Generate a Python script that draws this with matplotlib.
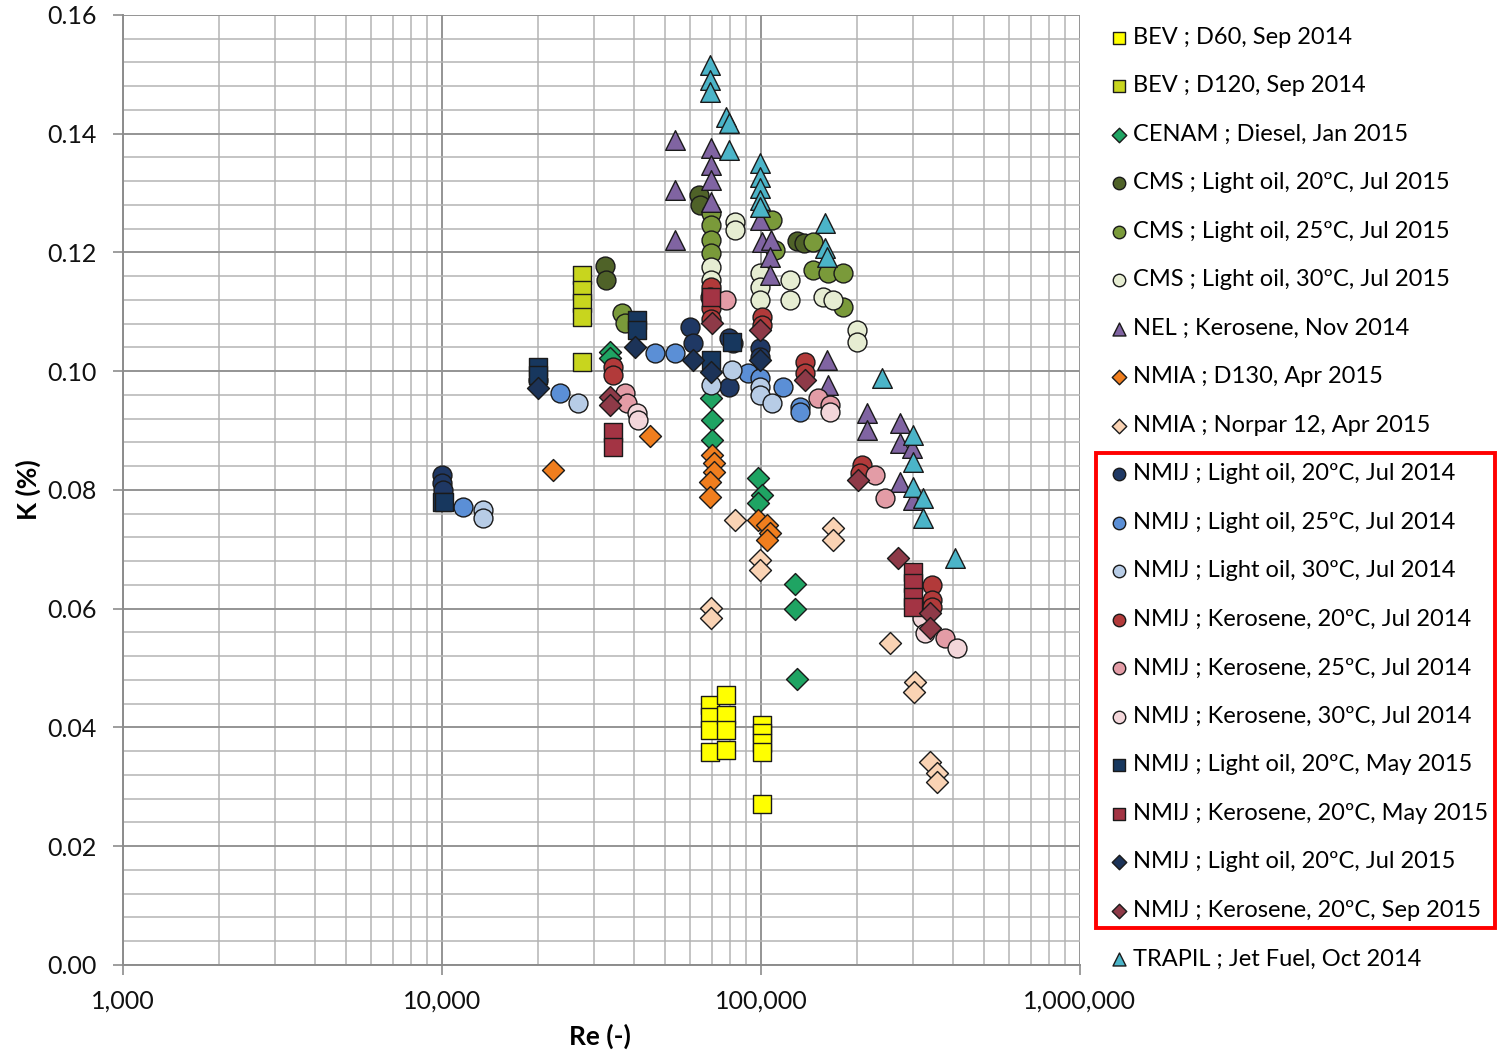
import numpy as np
import matplotlib.pyplot as plt
from matplotlib.ticker import FixedLocator, MultipleLocator, FuncFormatter
from matplotlib.patches import Rectangle

plt.rcParams['font.family'] = ['Lato', 'DejaVu Sans']

# ---- data: Reynolds number and K (%) per laboratory / fluid ----
bev_d60_re = [69200, 69200, 69200, 69200, 77700, 77700, 77700, 77700,
              100700, 100700, 100700, 100700, 100700]
bev_d60_k = [0.0438, 0.0418, 0.0396, 0.0359, 0.0455, 0.0421, 0.0396, 0.0362,
             0.0404, 0.0391, 0.0374, 0.0359, 0.0271]

bev_d120_re = [27470, 27470, 27470, 27470, 27470]
bev_d120_k = [0.1162, 0.1137, 0.1115, 0.1091, 0.1016]

cenam_re = [33600, 33600, 69900, 70400, 70400, 97900, 100700, 97900, 127800, 127800, 129700]
cenam_k = [0.1032, 0.1022, 0.0955, 0.0918, 0.0884, 0.0820, 0.0792, 0.0778, 0.0642, 0.0600, 0.0482]

cms20_re = [32400, 32700, 63700, 64400, 129700, 136000]
cms20_k = [0.1177, 0.1154, 0.1297, 0.1280, 0.1219, 0.1216]

cms25_re = [36670, 37500, 69900, 69900, 69900, 69900, 108400, 111000, 145600, 145600, 162200, 180700, 180700]
cms25_k = [0.1098, 0.1081, 0.1267, 0.1246, 0.1221, 0.1199, 0.1255, 0.1204, 0.1218, 0.1171, 0.1165, 0.1165, 0.1108]

cms30_re = [82900, 82900, 69900, 69900, 69900, 99300, 99300, 99300, 123300, 123300, 156400, 168200, 200000, 200000]
cms30_k = [0.1251, 0.1238, 0.1176, 0.1154, 0.1133, 0.1165, 0.1142, 0.1120, 0.1154, 0.1120, 0.1125, 0.1120, 0.1069, 0.1049]

nel_re = [53700, 53700, 53700, 69900, 69900, 69900, 69900, 99300, 100700, 107700, 106400, 106400,
          161000, 162200, 214900, 214900, 273000, 273000, 273000, 297500, 299700]
nel_k = [0.1389, 0.1305, 0.1221, 0.1376, 0.1347, 0.1322, 0.1285, 0.1255, 0.1218, 0.1221, 0.1192, 0.1162,
         0.1019, 0.0977, 0.0930, 0.0901, 0.0913, 0.0879, 0.0813, 0.0871, 0.0783]

nmia_d130_re = [22280, 44870, 70400, 71400, 71400, 69200, 69200, 97900, 104400, 106400, 104400]
nmia_d130_k = [0.0834, 0.0891, 0.0859, 0.0845, 0.0830, 0.0813, 0.0788, 0.0749, 0.0741, 0.0728, 0.0716]

nmia_norpar_re = [82900, 168200, 168200, 99300, 99300, 69900, 69900, 253800, 304000, 302000,
                  338700, 356200, 356200]
nmia_norpar_k = [0.0749, 0.0736, 0.0716, 0.0682, 0.0665, 0.0601, 0.0584, 0.0542, 0.0477, 0.0460,
                 0.0342, 0.0323, 0.0308]

nmij_lo20_jul14_re = [10000, 10000, 10070, 20000, 59900, 61200, 79400, 81700, 99300, 99300, 79400]
nmij_lo20_jul14_k = [0.0825, 0.0812, 0.0800, 0.0985, 0.1075, 0.1048, 0.1056, 0.1048, 0.1039, 0.1024, 0.0973]

nmij_lo25_re = [11640, 23440, 46530, 53700, 91000, 99300, 117200, 132500, 132500]
nmij_lo25_k = [0.0771, 0.0963, 0.1031, 0.1031, 0.0997, 0.0989, 0.0973, 0.0940, 0.0931]

nmij_lo30_re = [13440, 13440, 26690, 69900, 81100, 99300, 99300, 108400]
nmij_lo30_k = [0.0766, 0.0753, 0.0947, 0.0977, 0.1002, 0.0973, 0.0960, 0.0947]

nmij_ke20_jul14_re = [34370, 34370, 69900, 69200, 69900, 69900, 100700, 100700, 137400, 137400,
                      207300, 204000, 343700, 343700, 343700]
nmij_ke20_jul14_k = [0.1007, 0.0994, 0.1142, 0.1125, 0.1107, 0.1088, 0.1091, 0.1078, 0.1016, 0.0997,
                     0.0842, 0.0829, 0.0640, 0.0615, 0.0603]

nmij_ke25_re = [37470, 38030, 77700, 150900, 164600, 227800, 244800, 377400]
nmij_ke25_k = [0.0963, 0.0947, 0.1120, 0.0955, 0.0943, 0.0825, 0.0787, 0.0551]

nmij_ke30_re = [40870, 41200, 164600, 319000, 326700, 411600]
nmij_ke30_k = [0.0930, 0.0918, 0.0931, 0.0584, 0.0559, 0.0534]

nmij_lo20_may15_re = [10000, 10150, 20000, 20000, 40870, 40870, 81100, 69900]
nmij_lo20_may15_k = [0.0780, 0.0780, 0.1007, 0.0994, 0.1086, 0.1069, 0.1049, 0.1019]

nmij_ke20_may15_re = [34240, 34240, 69900, 299700, 299700, 299700, 299700]
nmij_ke20_may15_k = [0.0898, 0.0872, 0.1125, 0.0662, 0.0643, 0.0620, 0.0603]

nmij_lo20_jul15_re = [20000, 40300, 99300, 61200, 69900]
nmij_lo20_jul15_k = [0.0972, 0.1041, 0.1019, 0.1019, 0.0999]

nmij_ke20_sep15_re = [33630, 33630, 70400, 99300, 137400, 201500, 268900, 338700, 338700]
nmij_ke20_sep15_k = [0.0957, 0.0943, 0.1081, 0.1069, 0.0985, 0.0817, 0.0685, 0.0593, 0.0568]

trapil_re = [69200, 69200, 69200, 77700, 79400, 79400, 99300, 99300, 99300, 99300, 99300,
             158700, 158700, 161000, 239500, 299700, 299700, 299700, 322000, 322000, 405700]
trapil_k = [0.1516, 0.1491, 0.1470, 0.1428, 0.1418, 0.1373, 0.1351, 0.1327, 0.1309, 0.1288, 0.1277,
            0.1250, 0.1208, 0.1192, 0.0989, 0.0893, 0.0847, 0.0805, 0.0787, 0.0753, 0.0685]

series = [
    ("BEV ; D60, Sep 2014", bev_d60_re, bev_d60_k, "s", "#FFFF00"),
    ("BEV ; D120, Sep 2014", bev_d120_re, bev_d120_k, "s", "#C8D51E"),
    ("CENAM ; Diesel, Jan 2015", cenam_re, cenam_k, "D", "#1FA463"),
    ("CMS ; Light oil, 20ºC, Jul 2015", cms20_re, cms20_k, "o", "#4F6228"),
    ("CMS ; Light oil, 25ºC, Jul 2015", cms25_re, cms25_k, "o", "#7A9A3A"),
    ("CMS ; Light oil, 30ºC, Jul 2015", cms30_re, cms30_k, "o", "#E6EDD2"),
    ("NEL ; Kerosene, Nov 2014", nel_re, nel_k, "^", "#8064A2"),
    ("NMIA ; D130, Apr 2015", nmia_d130_re, nmia_d130_k, "D", "#F07E1E"),
    ("NMIA ; Norpar 12, Apr 2015", nmia_norpar_re, nmia_norpar_k, "D", "#FAD3B4"),
    ("NMIJ ; Light oil, 20ºC, Jul 2014", nmij_lo20_jul14_re, nmij_lo20_jul14_k, "o", "#1F3864"),
    ("NMIJ ; Light oil, 25ºC, Jul 2014", nmij_lo25_re, nmij_lo25_k, "o", "#5B8FD6"),
    ("NMIJ ; Light oil, 30ºC, Jul 2014", nmij_lo30_re, nmij_lo30_k, "o", "#B7CCE6"),
    ("NMIJ ; Kerosene, 20ºC, Jul 2014", nmij_ke20_jul14_re, nmij_ke20_jul14_k, "o", "#B23A3A"),
    ("NMIJ ; Kerosene, 25ºC, Jul 2014", nmij_ke25_re, nmij_ke25_k, "o", "#E39CA6"),
    ("NMIJ ; Kerosene, 30ºC, Jul 2014", nmij_ke30_re, nmij_ke30_k, "o", "#F3D6DA"),
    ("NMIJ ; Light oil, 20ºC, May 2015", nmij_lo20_may15_re, nmij_lo20_may15_k, "s", "#17375E"),
    ("NMIJ ; Kerosene, 20ºC, May 2015", nmij_ke20_may15_re, nmij_ke20_may15_k, "s", "#A33444"),
    ("NMIJ ; Light oil, 20ºC, Jul 2015", nmij_lo20_jul15_re, nmij_lo20_jul15_k, "D", "#1C3358"),
    ("NMIJ ; Kerosene, 20ºC, Sep 2015", nmij_ke20_sep15_re, nmij_ke20_sep15_k, "D", "#8E3A48"),
    ("TRAPIL ; Jet Fuel, Oct 2014", trapil_re, trapil_k, "^", "#4BB4C8"),
]

marker_area = {"o": 185, "s": 150, "D": 125, "^": 200}

fig = plt.figure(figsize=(14.97, 10.53), dpi=100)
ax = fig.add_axes([0.0822, 0.0836, 0.6392, 0.9022])

for label, re, k, m, c in series:
    ax.scatter(re, k, s=marker_area[m], marker=m, facecolor=c,
               edgecolor="#1a1a1a", linewidth=1.0, label=label, zorder=3)

ax.set_xscale("log")
ax.set_xlim(1000, 1000000)
ax.set_ylim(0, 0.16)

ax.xaxis.set_major_locator(FixedLocator([1e3, 1e4, 1e5, 1e6]))
ax.xaxis.set_minor_locator(FixedLocator([m * 10 ** e for e in range(3, 6) for m in range(2, 10)]))
ax.xaxis.set_major_formatter(FuncFormatter(lambda v, p: f"{v:,.0f}"))
ax.yaxis.set_major_locator(MultipleLocator(0.02))
ax.yaxis.set_minor_locator(MultipleLocator(0.004))
ax.yaxis.set_major_formatter(FuncFormatter(lambda v, p: f"{v:.2f}"))

ax.grid(which="major", color="#949494", linewidth=1.4, zorder=0)
ax.grid(which="minor", color="#b4b4b4", linewidth=1.1, zorder=0)
ax.set_axisbelow(True)
for side in ["top", "right"]:
    ax.spines[side].set_visible(False)
for side in ["left", "bottom"]:
    ax.spines[side].set_color("#8c8c8c")
    ax.spines[side].set_linewidth(1.4)

ax.tick_params(which="major", length=7, width=1.2, color="#8c8c8c",
               labelsize=18, labelcolor="#111111", pad=12)
ax.tick_params(axis="x", which="major", pad=11)
ax.tick_params(which="minor", length=0)

ax.set_xlabel("Re (-)", fontsize=19, fontweight="bold")
ax.set_ylabel("K (%)", fontsize=19, fontweight="bold")
ax.xaxis.set_label_coords(0.498, -0.062)
ax.yaxis.set_label_coords(-0.086, 0.5)

leg = ax.legend(loc="upper left", bbox_to_anchor=(1100 / 1497, 1 - 15 / 1053),
                bbox_transform=fig.transFigure, frameon=False, fontsize=17,
                markerscale=0.66, handlelength=0.6, handletextpad=0.3,
                labelspacing=1.165, borderpad=0, scatterpoints=1)

# highlight box round the NMIJ entries
fig.add_artist(Rectangle((1096 / 1497, 1 - 928 / 1053), 399 / 1497, 475 / 1053,
                         transform=fig.transFigure, fill=False,
                         edgecolor="#ff0000", linewidth=2.8))

fig.savefig("out.png", dpi=100)
